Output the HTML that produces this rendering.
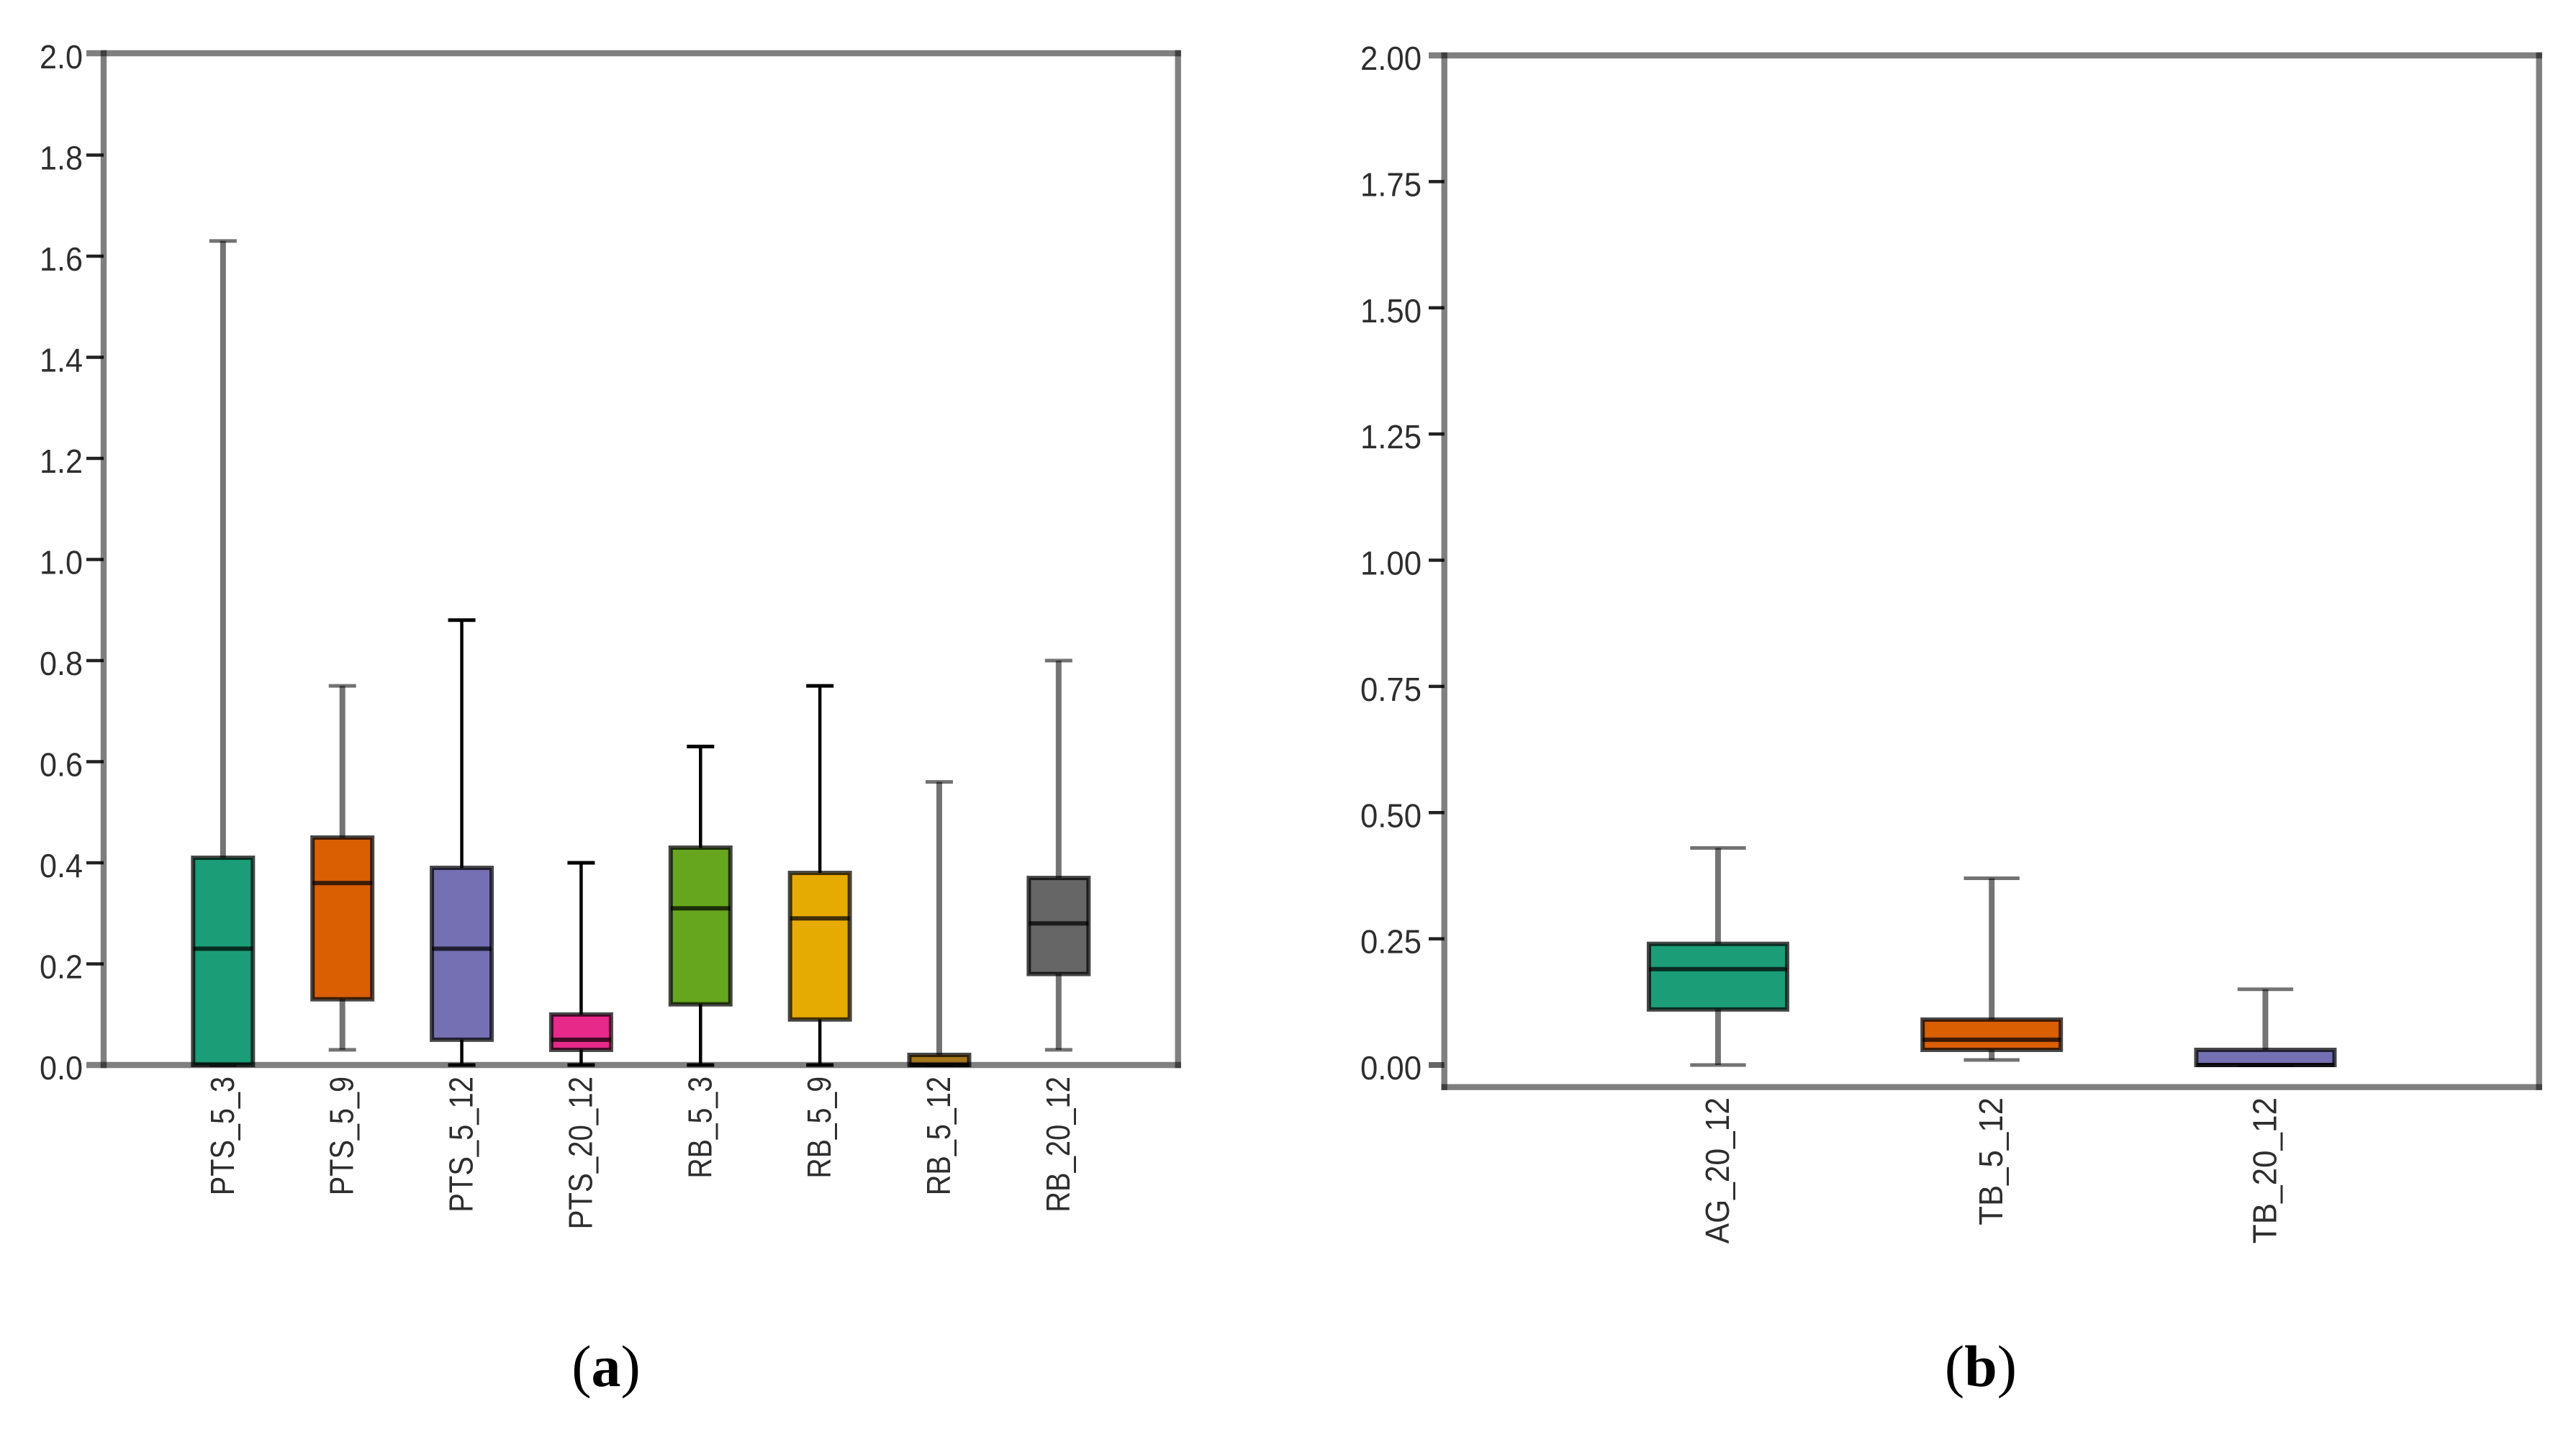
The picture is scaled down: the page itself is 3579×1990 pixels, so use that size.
<!DOCTYPE html>
<html lang="en">
<head>
<meta charset="utf-8">
<title>Box plots (a) and (b)</title>
<style>
html,body{margin:0;padding:0;background:#fff;}
svg{display:block;}
.tick-text{font-family:"Liberation Sans",sans-serif;font-size:46px;fill:#2e2e2e;}
.caption{font-family:"Liberation Serif",serif;font-size:82px;fill:#000;text-anchor:middle;}
</style>
</head>
<body>
<svg id="fig" xmlns="http://www.w3.org/2000/svg" width="3579" height="1990" viewBox="0 0 3579 1990">
  <rect x="0" y="0" width="3579" height="1990" fill="#ffffff"/>
  <g id="panel-a"></g>
  <g id="panel-b"></g>
  <text class="caption" x="842" y="1926">(<tspan font-weight="bold">a</tspan>)</text>
  <text class="caption" x="2752" y="1926">(<tspan font-weight="bold">b</tspan>)</text>
</svg>
<script>
// Panel (a) data
const aCategories = ["PTS_5_3","PTS_5_9","PTS_5_12","PTS_20_12","RB_5_3","RB_5_9","RB_5_12","RB_20_12"];
const aMin    = [0.00,0.03,0.00,0.00,0.00,0.00,0.00,0.03];
const aQ1     = [0.00,0.13,0.05,0.03,0.12,0.09,0.00,0.18];
const aMedian = [0.23,0.36,0.23,0.05,0.31,0.29,0.00,0.28];
const aQ3     = [0.41,0.45,0.39,0.10,0.43,0.38,0.02,0.37];
const aMax    = [1.63,0.75,0.88,0.40,0.63,0.75,0.56,0.80];
const aTicks  = ["0.0","0.2","0.4","0.6","0.8","1.0","1.2","1.4","1.6","1.8","2.0"];

// Panel (b) data
const bCategories = ["AG_20_12","TB_5_12","TB_20_12"];
const bMin    = [0.00,0.01,0.00];
const bQ1     = [0.11,0.03,0.00];
const bMedian = [0.19,0.05,0.00];
const bQ3     = [0.24,0.09,0.03];
const bMax    = [0.43,0.37,0.15];
const bTicks  = ["0.00","0.25","0.50","0.75","1.00","1.25","1.50","1.75","2.00"];

// Colour cycle shared by both panels
const palette = ["#1b9e77","#d95f02","#7570b3","#e7298a","#66a61e","#e6ab02","#a6761d","#666666"];
// Whiskers that look crisp (black, thin) rather than soft (grey, wide) in the source raster
const crispWhiskers = ["PTS_5_12","PTS_20_12","RB_5_3","RB_5_9"];

const NS = "http://www.w3.org/2000/svg";

function make(parent, tag, attrs) {
  const el = document.createElementNS(NS, tag);
  for (const k in attrs) el.setAttribute(k, attrs[k]);
  parent.appendChild(el);
  return el;
}

function drawPanel(root, p, cats, mins, q1s, meds, q3s, maxs, ticks) {
  const yScale = v => p.y0 - (v / 2) * (p.y0 - p.y2);
  const xScale = i => p.left + (i + 1) * (p.right - p.left) / (cats.length + 1);

  // Boxes
  cats.forEach((name, i) => {
    const cx = xScale(i);
    const crisp = crispWhiskers.includes(name);
    const wStroke = crisp ? "#000000" : "rgba(0,0,0,0.55)";
    const wWidth = crisp ? 4.5 : 8;

    const whisker = make(root, "line", {x1:cx, x2:cx, y1:yScale(mins[i]), y2:yScale(maxs[i]), stroke:wStroke, "stroke-width":wWidth});
    
    

    const capTop = make(root, "line", {x1:cx - p.capHalf, x2:cx + p.capHalf, y1:yScale(maxs[i]), y2:yScale(maxs[i]), stroke:wStroke, "stroke-width":5});
    
    

    const capLow = make(root, "line", {x1:cx - p.capHalf, x2:cx + p.capHalf, y1:yScale(mins[i]), y2:yScale(mins[i]), stroke:wStroke, "stroke-width":5});
    
    

    const box = make(root, "rect", {
      x: cx - p.boxHalf, width: 2 * p.boxHalf,
      y: yScale(q3s[i]), height: yScale(q1s[i]) - yScale(q3s[i]),
      fill: palette[i % palette.length], stroke: "rgba(0,0,0,0.72)", "stroke-width": 6
    });
    
    

    const med = make(root, "line", {x1:cx - p.boxHalf, x2:cx + p.boxHalf, y1:yScale(meds[i]), y2:yScale(meds[i]), stroke:"rgba(0,0,0,0.72)", "stroke-width":6});
    
    

    const label = make(root, "text", {
      class: "tick-text", "text-anchor": "end",
      transform: "translate(" + (cx + 15) + "," + p.labelTop + ") rotate(-90)",
      textLength: name.length * p.charPitch, lengthAdjust: "spacingAndGlyphs"
    });
    label.textContent = name;
    
    
  });

  // Y ticks
  ticks.forEach(t => {
    const y = yScale(parseFloat(t));
    if (parseFloat(t) > 0 && parseFloat(t) < 2) {
      const tick = make(root, "line", {x1:p.tickStart, x2:p.left, y1:y, y2:y, stroke:"#222222", "stroke-width":4.5});
      
      
    } else if (parseFloat(t) === 0 && p.frameBottom !== p.y0) {
      const tick0 = make(root, "line", {x1:p.tickStart, x2:p.left, y1:y, y2:y, stroke:"rgba(0,0,0,0.6)", "stroke-width":8});
      
      
    }
    const text = make(root, "text", {
      class: "tick-text", x: p.tickTextEnd, y: y + 20, "text-anchor": "end",
      textLength: p.tickTextWidth * t.length / p.tickChars, lengthAdjust: "spacingAndGlyphs"
    });
    text.textContent = t;
    
    
  });

  // Frame (semi-transparent, so corners overlap darker as in the source)
  const frameStroke = "rgba(0,0,0,0.5)";
  const fw = p.frameWidth;
  const top = make(root, "line", {x1:p.tickStart, x2:p.right + fw / 2, y1:p.frameTop, y2:p.frameTop, stroke:frameStroke, "stroke-width":fw});
  
  
  const bottom = make(root, "line", {x1:p.frameBottom === p.y0 ? p.tickStart : p.left - fw / 2, x2:p.right + fw / 2, y1:p.frameBottom, y2:p.frameBottom, stroke:frameStroke, "stroke-width":fw});
  
  
  const leftAxis = make(root, "line", {x1:p.left, x2:p.left, y1:p.frameTop - fw / 2, y2:p.frameBottom + fw / 2, stroke:frameStroke, "stroke-width":fw});
  
  
  const rightAxis = make(root, "line", {x1:p.right, x2:p.right, y1:p.frameTop - fw / 2, y2:p.frameBottom + fw / 2, stroke:frameStroke, "stroke-width":fw});
  
  
}

drawPanel(document.getElementById("panel-a"), {
  left:144, right:1636.7, y0:1480, y2:75, frameTop:74, frameBottom:1480, frameWidth:8.4,
  tickStart:120, tickTextEnd:115, tickTextWidth:60, tickChars:3,
  boxHalf:41.5, capHalf:19, labelTop:1496, charPitch:23.6
}, aCategories, aMin, aQ1, aMedian, aQ3, aMax, aTicks);

drawPanel(document.getElementById("panel-b"), {
  left:2006.7, right:3527.7, y0:1480, y2:77, frameTop:77, frameBottom:1510.7, frameWidth:8.4,
  tickStart:1985, tickTextEnd:1975, tickTextWidth:85, tickChars:4,
  boxHalf:96, capHalf:38.7, labelTop:1525, charPitch:25.4
}, bCategories, bMin, bQ1, bMedian, bQ3, bMax, bTicks);
</script>
</body>
</html>
